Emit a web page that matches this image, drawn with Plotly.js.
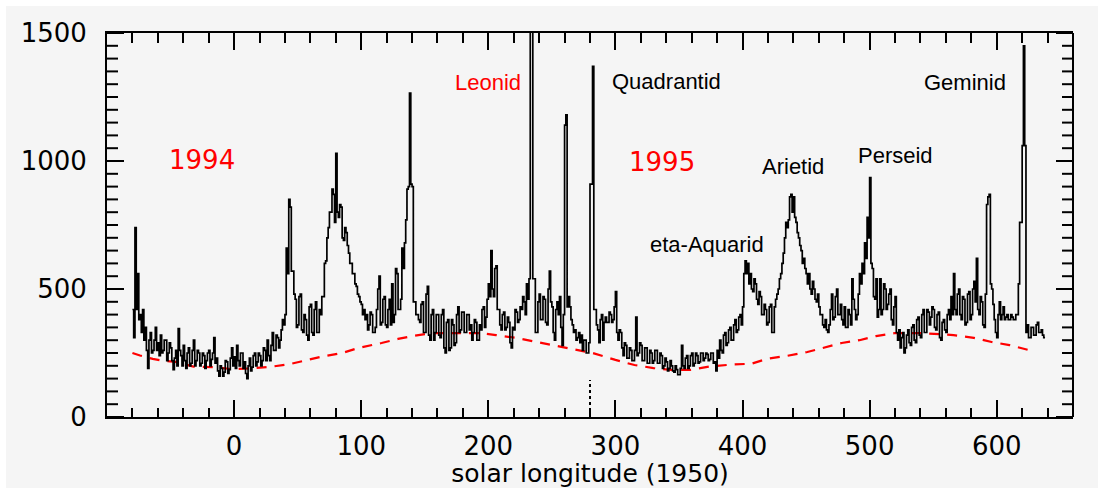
<!DOCTYPE html>
<html><head><meta charset="utf-8">
<script src="https://cdn.plot.ly/plotly-3.0.1.min.js"></script>
<style>html,body{margin:0;padding:0;background:#ffffff;}
#chart{position:absolute;left:6px;top:6px;width:1092px;height:482px;}</style>
</head><body><div id="chart"></div>
<script>
// meteor rate vs solar longitude (1950), one value per degree
const rateLon = [
-80,-79,-78,-77,-76,-75,-74,-73,-72,-71,-70,-69,-68,-67,-66,-65,-64,-63,-62,-61,
-60,-59,-58,-57,-56,-55,-54,-53,-52,-51,-50,-49,-48,-47,-46,-45,-44,-43,-42,-41,
-40,-39,-38,-37,-36,-35,-34,-33,-32,-31,-30,-29,-28,-27,-26,-25,-24,-23,-22,-21,
-20,-19,-18,-17,-16,-15,-14,-13,-12,-11,-10,-9,-8,-7,-6,-5,-4,-3,-2,-1,
0,1,2,3,4,5,6,7,8,9,10,11,12,13,14,15,16,17,18,19,
20,21,22,23,24,25,26,27,28,29,30,31,32,33,34,35,36,37,38,39,
40,41,42,43,44,45,46,47,48,49,50,51,52,53,54,55,56,57,58,59,
60,61,62,63,64,65,66,67,68,69,70,71,72,73,74,75,76,77,78,79,
80,81,82,83,84,85,86,87,88,89,90,91,92,93,94,95,96,97,98,99,
100,101,102,103,104,105,106,107,108,109,110,111,112,113,114,115,116,117,118,119,
120,121,122,123,124,125,126,127,128,129,130,131,132,133,134,135,136,137,138,139,
140,141,142,143,144,145,146,147,148,149,150,151,152,153,154,155,156,157,158,159,
160,161,162,163,164,165,166,167,168,169,170,171,172,173,174,175,176,177,178,179,
180,181,182,183,184,185,186,187,188,189,190,191,192,193,194,195,196,197,198,199,
200,201,202,203,204,205,206,207,208,209,210,211,212,213,214,215,216,217,218,219,
220,221,222,223,224,225,226,227,228,229,230,231,232,233,234,235,236,237,238,239,
240,241,242,243,244,245,246,247,248,249,250,251,252,253,254,255,256,257,258,259,
260,261,262,263,264,265,266,267,268,269,270,271,272,273,274,275,276,277,278,279,
280,281,282,283,284,285,286,287,288,289,290,291,292,293,294,295,296,297,298,299,
300,301,302,303,304,305,306,307,308,309,310,311,312,313,314,315,316,317,318,319,
320,321,322,323,324,325,326,327,328,329,330,331,332,333,334,335,336,337,338,339,
340,341,342,343,344,345,346,347,348,349,350,351,352,353,354,355,356,357,358,359,
360,361,362,363,364,365,366,367,368,369,370,371,372,373,374,375,376,377,378,379,
380,381,382,383,384,385,386,387,388,389,390,391,392,393,394,395,396,397,398,399,
400,401,402,403,404,405,406,407,408,409,410,411,412,413,414,415,416,417,418,419,
420,421,422,423,424,425,426,427,428,429,430,431,432,433,434,435,436,437,438,439,
440,441,442,443,444,445,446,447,448,449,450,451,452,453,454,455,456,457,458,459,
460,461,462,463,464,465,466,467,468,469,470,471,472,473,474,475,476,477,478,479,
480,481,482,483,484,485,486,487,488,489,490,491,492,493,494,495,496,497,498,499,
500,501,502,503,504,505,506,507,508,509,510,511,512,513,514,515,516,517,518,519,
520,521,522,523,524,525,526,527,528,529,530,531,532,533,534,535,536,537,538,539,
540,541,542,543,544,545,546,547,548,549,550,551,552,553,554,555,556,557,558,559,
560,561,562,563,564,565,566,567,568,569,570,571,572,573,574,575,576,577,578,579,
580,581,582,583,584,585,586,587,588,589,590,591,592,593,594,595,596,597,598,599,
600,601,602,603,604,605,606,607,608,609,610,611,612,613,614,615,616,617,618,619,
620,621,622,623,624,625,626,627,628,629,630,631,632,633,634,635,636,637,638];
const rateVal = [
420,310,740,420,560,380,400,330,420,300,350,260,190,300,330,250,260,300,350,260,
290,240,320,250,260,300,300,220,250,290,270,220,185,230,260,200,345,260,240,200,
280,220,190,250,270,200,210,260,300,200,220,260,250,200,210,250,240,190,220,250,
260,200,225,250,310,210,230,180,160,200,190,160,175,220,215,170,185,230,270,200,
235,190,280,220,200,250,250,190,215,170,150,200,230,180,195,240,250,200,215,250,
240,200,220,270,260,220,300,240,220,280,330,260,260,320,310,270,300,340,380,360,
400,660,560,850,820,570,570,480,460,350,360,470,480,340,330,400,380,320,300,430,
440,330,320,420,450,330,330,420,400,470,470,600,610,700,740,800,800,890,870,760,
1030,800,780,830,820,700,690,740,720,670,640,600,600,560,560,520,510,480,470,450,
440,400,420,380,400,340,360,410,400,330,330,350,420,500,550,360,370,460,470,360,
350,420,460,360,520,370,400,580,560,420,420,460,660,580,680,770,890,900,1265,910,
900,450,450,400,400,380,370,440,450,330,330,480,510,320,300,400,420,300,330,400,
400,320,310,400,420,270,250,370,380,260,270,380,360,280,290,400,430,330,340,410,
410,330,330,400,400,340,360,300,330,380,370,300,300,360,340,420,430,350,390,460,
520,470,650,500,470,580,590,420,420,360,340,400,410,340,350,390,370,290,270,350,
340,420,410,370,380,430,420,470,450,400,520,460,540,1600,1600,540,540,330,330,450,
480,380,380,470,460,370,360,500,570,450,430,330,300,420,450,400,470,350,280,400,
1140,1180,430,470,430,380,360,330,340,300,310,330,290,320,260,300,300,250,250,290,
910,910,1370,420,420,360,340,290,380,400,300,370,390,370,370,410,400,370,380,430,
490,330,300,340,330,270,240,290,280,230,230,270,260,220,220,260,390,240,250,290,
280,220,220,270,270,210,210,260,250,210,220,260,260,210,210,250,240,190,200,230,
215,180,190,220,200,180,175,200,185,165,165,190,280,200,190,230,240,190,200,240,
250,200,210,250,240,210,215,250,250,220,230,250,245,220,225,250,250,210,215,180,
260,230,300,260,250,320,330,280,290,340,350,300,300,360,380,330,340,390,400,360,
430,560,610,560,600,520,560,500,490,540,520,460,440,490,470,400,400,440,420,360,
370,430,440,330,330,430,460,480,500,540,560,600,640,700,760,740,770,860,870,800,
860,780,760,720,700,670,650,600,620,580,560,520,560,500,480,530,500,460,450,480,
430,400,400,360,350,380,340,330,360,420,480,380,390,470,500,400,400,440,380,360,
430,350,350,420,400,360,540,460,420,380,400,480,560,520,600,560,680,620,780,700,
935,600,580,470,460,540,390,420,540,400,420,520,500,420,440,480,500,380,360,430,
470,330,300,340,270,310,330,250,270,320,340,290,280,350,360,300,290,380,390,320,
310,400,420,330,330,420,410,360,390,430,420,350,340,400,410,310,300,370,380,340,
330,400,420,380,470,400,560,420,400,480,500,400,380,470,460,360,370,480,490,380,
400,500,530,450,620,420,400,470,450,360,350,480,830,860,870,520,500,440,380,330,
310,400,450,380,400,430,380,390,400,380,380,400,390,380,380,400,400,520,760,760,
1060,1450,1060,330,360,310,310,350,350,320,320,360,370,330,330,340,320,310,310];
// sporadic background level (red dashed)
const bgLon = [-80,-74,-64,-56,-46,-32,-16,-2,14,30,44,58,71,85,98,116,129,145,156,175,193,206,222,238,254,270,282,300,315,330,344,359,375,392,407,419,434,451,463,478,492,505,520,540,566,582,596,610,628];
const bgVal = [250,240,227,220,215,197,195,187,190,197,207,223,238,250,270,289,305,320,328,328,328,320,309,293,277,262,250,223,203,191,184,184,198,205,208,227,238,254,270,289,300,316,328,328,320,309,293,281,258];
// dotted marker at the year boundary
const markLon = [280,280];
const markVal = [0,145];
// ticks
const xMajor = [0,100,200,300,400,500,600];
const xMajorText = ['0','100','200','300','400','500','600'];
const xMinor = [-80,-60,-40,-20,20,40,60,80,120,140,160,180,220,240,260,280,320,340,360,380,420,440,460,480,520,540,560,580,620,640];
const yMajor = [0,500,1000,1500];
const yMajorText = ['0','500','1000','1500'];
const yMinor = [50,100,150,200,250,300,350,400,450,550,600,650,700,750,800,850,900,950,1050,1100,1150,1200,1250,1300,1350,1400,1450];

const PLOT_W = 966;             // plot-area width in px (for tick lengths in paper units)
const yMajorLen = 17 / PLOT_W, yMinorLen = 11 / PLOT_W;

const labFont = {family:'Liberation Sans, Arial', size:22, color:'#000'};
const redLab = {family:'Liberation Sans, Arial', size:22, color:'#ff0000'};
const yearFont = {family:'DejaVu Sans', size:26, color:'#ff0000'};

function dummy(xa, ya){ return {x:[], y:[], xaxis:xa, yaxis:ya, mode:'lines', hoverinfo:'skip', showlegend:false}; }

const traces = [
  {x:bgLon, y:bgVal, mode:'lines', line:{color:'#ff0000', width:2.2, dash:'10px,8px'}, hoverinfo:'skip'},
  {x:markLon, y:markVal, mode:'lines', line:{color:'#000', width:2, dash:'dot'}, hoverinfo:'skip'},
  {x:rateLon, y:rateVal, mode:'lines', line:{color:'#000', width:1.7, shape:'hv'}, hoverinfo:'skip'},
  dummy('x2','y'), dummy('x3','y'), dummy('x4','y')
];

function ax(extra){
  return Object.assign({
    showgrid:false, zeroline:false, showline:false, linecolor:'#000', linewidth:2,
    ticks:'inside', tickcolor:'#000', tickwidth:2, tickmode:'array',
    showticklabels:false, tickfont:{family:'DejaVu Sans', size:26, color:'#000'},
    fixedrange:true, automargin:false
  }, extra);
}

// y-axis tick marks on both sides, placed at the tick values through the y scale
function yTickShapes(vals, len){
  const out = [];
  vals.forEach(function(v){
    out.push({type:'line', xref:'paper', yref:'y', x0:0, x1:len, y0:v, y1:v, line:{color:'#000', width:2}});
    out.push({type:'line', xref:'paper', yref:'y', x0:1, x1:1 - len, y0:v, y1:v, line:{color:'#000', width:2}});
  });
  return out;
}

const layout = {
  width:1092, height:482,
  margin:{l:101, r:25, t:27, b:71},
  paper_bgcolor:'#f5f5f5', plot_bgcolor:'rgba(0,0,0,0)',
  showlegend:false,
  xaxis: ax({range:[-100,660], side:'bottom', anchor:'y', showline:true, ticklen:17,
    tickvals:xMajor, ticktext:xMajorText, showticklabels:true, ticklabelstandoff:5,
    title:{text:'solar longitude (1950)', font:{family:'DejaVu Sans', size:25, color:'#000'}, standoff:11}}),
  xaxis2: ax({range:[-100,660], side:'bottom', anchor:'y', overlaying:'x', ticklen:9, tickvals:xMinor}),
  xaxis3: ax({range:[-100,660], side:'top', anchor:'y', overlaying:'x', showline:true, ticklen:17, tickvals:xMajor}),
  xaxis4: ax({range:[-100,660], side:'top', anchor:'y', overlaying:'x', ticklen:10, tickvals:xMinor}),
  yaxis: ax({range:[0,1500], side:'left', anchor:'x', showline:true, ticks:'',
    tickvals:yMajor, ticktext:yMajorText.map(function(t){return t + '\u2002';}), showticklabels:true}),
  shapes: yTickShapes(yMajor, yMajorLen).concat(yTickShapes(yMinor, yMinorLen)).concat([
    {type:'line', xref:'paper', yref:'paper', x0:1, x1:1, y0:0, y1:1, line:{color:'#000', width:2}}
  ]),
  annotations:[
    {x:-25, y:1004, text:'1994', showarrow:false, font:yearFont, xanchor:'center', yanchor:'middle'},
    {x:337, y:996, text:'1995', showarrow:false, font:yearFont, xanchor:'center', yanchor:'middle'},
    {x:200, y:1308, text:'Leonid', showarrow:false, font:redLab, xanchor:'center', yanchor:'middle'},
    {x:340, y:1312, text:'Quadrantid', showarrow:false, font:labFont, xanchor:'center', yanchor:'middle'},
    {x:372, y:672, text:'eta-Aquarid', showarrow:false, font:labFont, xanchor:'center', yanchor:'middle'},
    {x:440, y:980, text:'Arietid', showarrow:false, font:labFont, xanchor:'center', yanchor:'middle'},
    {x:520, y:1020, text:'Perseid', showarrow:false, font:labFont, xanchor:'center', yanchor:'middle'},
    {x:575, y:1308, text:'Geminid', showarrow:false, font:labFont, xanchor:'center', yanchor:'middle'}
  ]
};

Plotly.newPlot('chart', traces, layout, {displayModeBar:false, staticPlot:true});
</script>
</body></html>
